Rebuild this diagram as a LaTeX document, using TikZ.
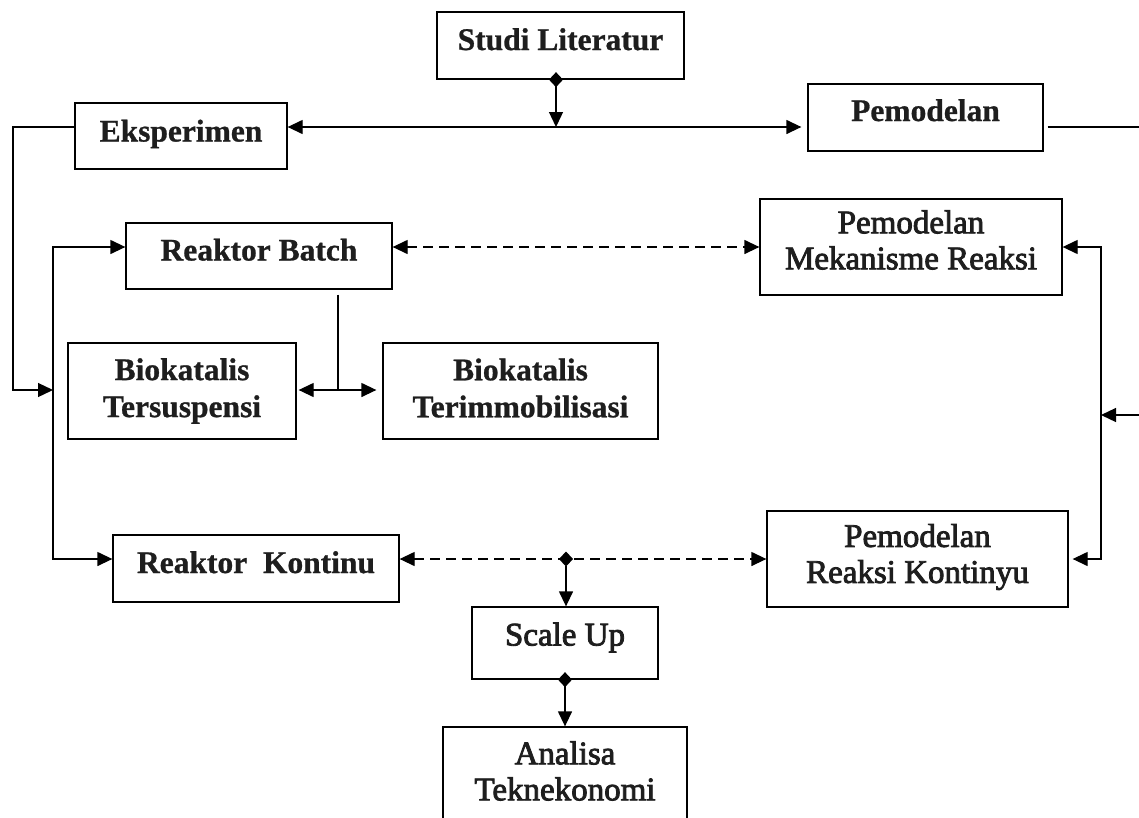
\documentclass[tikz,border=0pt]{standalone}
\usepackage{fontspec}
\setmainfont{Liberation Serif}[BoldFeatures={FakeBold=0.8}]
\newfontfamily\garfont{Liberation Serif}[FakeBold=2.5]
\usetikzlibrary{arrows.meta}
\definecolor{ink}{RGB}{30,30,30}
\tikzset{
  tri/.tip={Triangle[length=15pt,width=14pt]},
  dia/.tip={Diamond[length=15pt,width=14pt]},
  box/.style={draw=black, line width=1.3pt, inner sep=0pt},
  link/.style={line width=1.3pt, draw=black},
  dlink/.style={line width=1.3pt, draw=black, dash pattern=on 10pt off 6pt},
  bt/.style={font=\fontsize{31.5}{37}\selectfont\bfseries, text=ink, align=center, inner sep=0pt},
  one/.style={text height=22pt, text depth=7pt},
  gt/.style={font=\garfont\fontsize{33}{36}\selectfont, text=ink, align=center, inner sep=0pt},
}
\begin{document}
\begin{tikzpicture}[x=1pt,y=-1pt]
\useasboundingbox (0,0) rectangle (1139,817);
\fill[white] (0,0) rectangle (1139,817);
\clip (0,0) rectangle (1139,817);

% boxes
\node[box, minimum width=247pt, minimum height=67pt] (studi)  at (560.5,45.5) {};
\node[box, minimum width=212pt, minimum height=66pt] (eksp)   at (181,136) {};
\node[box, minimum width=235pt, minimum height=67pt] (pemod)  at (925.5,117.5) {};
\node[box, minimum width=266pt, minimum height=66pt] (rbatch) at (259,256) {};
\node[box, minimum width=302pt, minimum height=96pt] (pmr)    at (911,247) {};
\node[box, minimum width=228pt, minimum height=96pt] (btsus)  at (182,391) {};
\node[box, minimum width=275pt, minimum height=96pt] (bterim) at (520.5,391) {};
\node[box, minimum width=286pt, minimum height=67pt] (rkont)  at (256,568.5) {};
\node[box, minimum width=301pt, minimum height=96pt] (prk)    at (917.5,559) {};
\node[box, minimum width=186pt, minimum height=72pt] (scale)  at (565,643) {};
\node[box, minimum width=244pt, minimum height=103pt] (anal)  at (565,778.5) {};

% box texts
\node[bt,one] (studiT)  at ([yshift=3pt]studi.center)  {Studi Literatur};
\node[bt,one] (ekspT)   at ([yshift=2pt]eksp.center)   {Eksperimen};
\node[bt,one] (pemodT)  at ([yshift=4pt]pemod.center)  {Pemodelan};
\node[bt,one] (rbatchT) at ([yshift=3pt]rbatch.center) {Reaktor Batch};
\node[bt,one] (rkontT)  at ([yshift=3pt]rkont.center)  {Reaktor\ \ Kontinu};
\node[bt] (btsusT)  at (btsus.center) {Biokatalis\\Tersuspensi};
\node[bt] (bterimT) at ([yshift=3pt]bterim.center) {Biokatalis\\Terimmobilisasi};
\node[gt] (pmrT)  at ([yshift=7pt]pmr.center) {Pemodelan\\Mekanisme Reaksi};
\node[gt] (prkT)  at ([yshift=2pt]prk.center) {Pemodelan\\Reaksi Kontinyu};
\node[gt,one] (scaleT) at ([yshift=5pt]scale.center) {Scale Up};
\node[gt] (analT) at ([yshift=7.5pt]anal.center) {Analisa\\Teknekonomi};

% junction points
\coordinate (hub)  at (556,127);
\coordinate (lt)   at (13,127);
\coordinate (lb)   at (13,390);
\coordinate (vl)   at (53,390);
\coordinate (vtop) at (53,247);
\coordinate (vbot) at (53,559);
\coordinate (rtop) at (1101,247);
\coordinate (rbot) at (1101,559);
\coordinate (rmid) at (1101,415);
\coordinate (redge) at (1145,415);
\coordinate (rtopedge) at (1145,127);
\coordinate (bj)   at (338,390);
\coordinate (dj)   at (566,559);

% connectors
\draw[link, dia-tri, shorten <=-7.5pt] (hub |- studi.south) -- (hub);
\draw[link, tri-tri, shorten >=6pt] (eksp.east |- hub) -- (pemod.west |- hub);
\draw[link, shorten <=4pt] (pemod.east |- hub) -- (rtopedge);
\draw[link, -tri] (eksp.west |- hub) -- (lt) -- (lb) -- (vl);
\draw[link, tri-tri] (vtop -| rbatch.west) -- (vtop) -- (vbot) -- (vbot -| rkont.west);
\draw[link, shorten <=5pt] (bj |- rbatch.south) -- (bj);
\draw[link, tri-tri, shorten <=2pt, shorten >=6pt] (btsus.east |- bj) -- (bterim.west |- bj);
\draw[dlink, tri-tri] (rbatch.east |- pmr.west) -- (pmr.west);
\draw[dlink, tri-tri] (rkont.east |- prk.west) -- (prk.west);
\draw[link, dia-tri, shorten <=-7.5pt] (dj) -- (dj |- scale.north);
\draw[link, dia-tri, shorten <=-7.5pt] (scale.south) -- (anal.north);
\draw[link, tri-tri, shorten >=4pt] (rtop -| pmr.east) -- (rtop) -- (rbot) -- (rbot -| prk.east);
\draw[link, -tri] (redge) -- (rmid);
\end{tikzpicture}
\end{document}
